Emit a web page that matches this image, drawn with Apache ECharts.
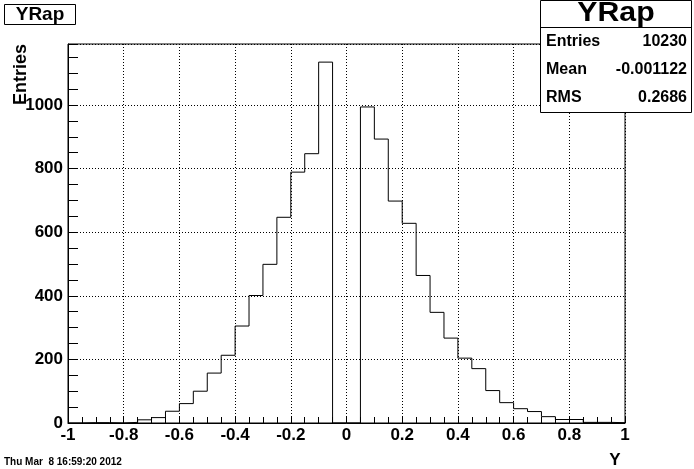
<!DOCTYPE html>
<html><head><meta charset="utf-8">
<script src="https://cdn.jsdelivr.net/npm/echarts@6/dist/echarts.min.js"></script>
<style>html,body{margin:0;padding:0;background:#fff}#c{width:694px;height:469px}</style>
</head><body><div id="c"></div>
<script>
// ---- data ----
const binLow = -1, binHigh = 1, binWidth = 0.05;
const counts = [0, 1, 1, 0, 2, 10, 17, 37, 61, 100, 157, 213, 305, 401, 499, 647, 789, 847, 1135, 0,
                0, 994, 893, 698, 628, 464, 348, 267, 204, 171, 102, 64, 45, 36, 20, 11, 11, 2, 2, 1];
const yMax = 1192;
const xMajor = 0.2, xMinor = 0.05, yMajor = 200, yMinor = 50;
const histTitle = 'YRap';
const statsLabels = ['Entries', 'Mean', 'RMS'];
const statsValues = ['10230', '-0.001122', '0.2686'];
const xTitle = 'Y', yTitle = 'Entries';
const dateText = 'Thu Mar  8 16:59:20 2012';

// ---- build step outline from bins ----
const stepData = counts.map((c, i) => [binLow + i * binWidth, c]);
stepData.push([binHigh, counts[counts.length - 1]]);

const FONT = '"Liberation Sans", Arial, Helvetica, sans-serif';
const gridBox = {left: 68, top: 44, width: 557, height: 379};

const chart = echarts.init(document.getElementById('c'), null, {renderer: 'canvas'});
const statRows = [];
statsLabels.forEach((l, i) => {
  const y = 42 + i * 28;
  statRows.push({type: 'text', z: 101, x: 546, y: y,
    style: {text: l, font: 'bold 16px ' + FONT, fill: '#000', textAlign: 'left', textVerticalAlign: 'middle'}});
  statRows.push({type: 'text', z: 101, x: 687, y: y,
    style: {text: statsValues[i], font: 'bold 16px ' + FONT, fill: '#000', textAlign: 'right', textVerticalAlign: 'middle'}});
});

chart.setOption({
  animation: false,
  backgroundColor: '#fff',
  grid: [
    Object.assign({show: true, borderColor: '#000', borderWidth: 1, backgroundColor: 'transparent', containLabel: false}, gridBox),
    Object.assign({show: false, containLabel: false}, gridBox)
  ],
  xAxis: [
    {type: 'value', gridIndex: 0, min: binLow, max: binHigh, interval: xMajor, position: 'bottom',
     axisLine: {show: true, onZero: false, lineStyle: {color: '#000', width: 1}},
     axisTick: {show: false},
     axisLabel: {color: '#000', fontFamily: FONT, fontWeight: 'bold', fontSize: 17, margin: 4,
       formatter: v => String(Math.round(v * 10) / 10)},
     splitLine: {show: true, lineStyle: {color: '#000', width: 1, type: [1, 2]}}},
    {type: 'value', gridIndex: 1, min: binLow, max: binHigh, interval: xMinor, position: 'bottom',
     axisLine: {show: false, onZero: false},
     axisTick: {show: true, inside: true, length: 6, lineStyle: {color: '#000', width: 1}},
     axisLabel: {show: false}, splitLine: {show: false}}
  ],
  yAxis: [
    {type: 'value', gridIndex: 0, min: 0, max: yMax, interval: yMajor, position: 'left',
     axisLine: {show: true, onZero: false, lineStyle: {color: '#000', width: 1}},
     axisTick: {show: false},
     axisLabel: {color: '#000', fontFamily: FONT, fontWeight: 'bold', fontSize: 17, margin: 5,
       formatter: v => (v % yMajor === 0 ? String(v) : '')},
     splitLine: {show: true, lineStyle: {color: '#000', width: 1, type: [1, 2]}}},
    {type: 'value', gridIndex: 1, min: 0, max: yMax, interval: yMinor, position: 'left',
     axisLine: {show: false, onZero: false},
     axisTick: {show: true, inside: true, length: 10, lineStyle: {color: '#000', width: 1}},
     axisLabel: {show: false}, splitLine: {show: false}}
  ],
  series: [{
    type: 'line', xAxisIndex: 0, yAxisIndex: 0, step: 'end', data: stepData,
    symbol: 'none', lineStyle: {color: '#000', width: 1}, z: 5, silent: true
  }],
  graphic: [
    {type: 'rect', z: 100, shape: {x: 4.5, y: 4.5, width: 71, height: 20},
     style: {fill: '#fff', stroke: '#000', lineWidth: 1}},
    {type: 'text', z: 101, x: 40, y: 15,
     style: {text: histTitle, font: 'bold 19px ' + FONT, fill: '#000', textAlign: 'center', textVerticalAlign: 'middle'}},
    {type: 'rect', z: 100, shape: {x: 540.5, y: 0.5, width: 151, height: 112},
     style: {fill: '#fff', stroke: '#000', lineWidth: 1}},
    {type: 'line', z: 101, shape: {x1: 540.5, y1: 27.5, x2: 691.5, y2: 27.5},
     style: {stroke: '#000', lineWidth: 1}},
    {type: 'text', z: 101, x: 616, y: 14, scaleX: 1.12,
     style: {text: histTitle, font: 'bold 27px ' + FONT, fill: '#000', textAlign: 'center', textVerticalAlign: 'middle'}},
    ...statRows,
    {type: 'text', z: 101, x: 21, y: 44, rotation: Math.PI / 2,
     style: {text: yTitle, font: 'bold 18px ' + FONT, fill: '#000', textAlign: 'right', textVerticalAlign: 'middle'}},
    {type: 'text', z: 101, x: 615, y: 460,
     style: {text: xTitle, font: 'bold 17px ' + FONT, fill: '#000', textAlign: 'center', textVerticalAlign: 'middle'}},
    {type: 'text', z: 101, x: 4, y: 462,
     style: {text: dateText, font: 'bold 10px ' + FONT, fill: '#000', textAlign: 'left', textVerticalAlign: 'middle'}}
  ]
});
</script></body></html>
